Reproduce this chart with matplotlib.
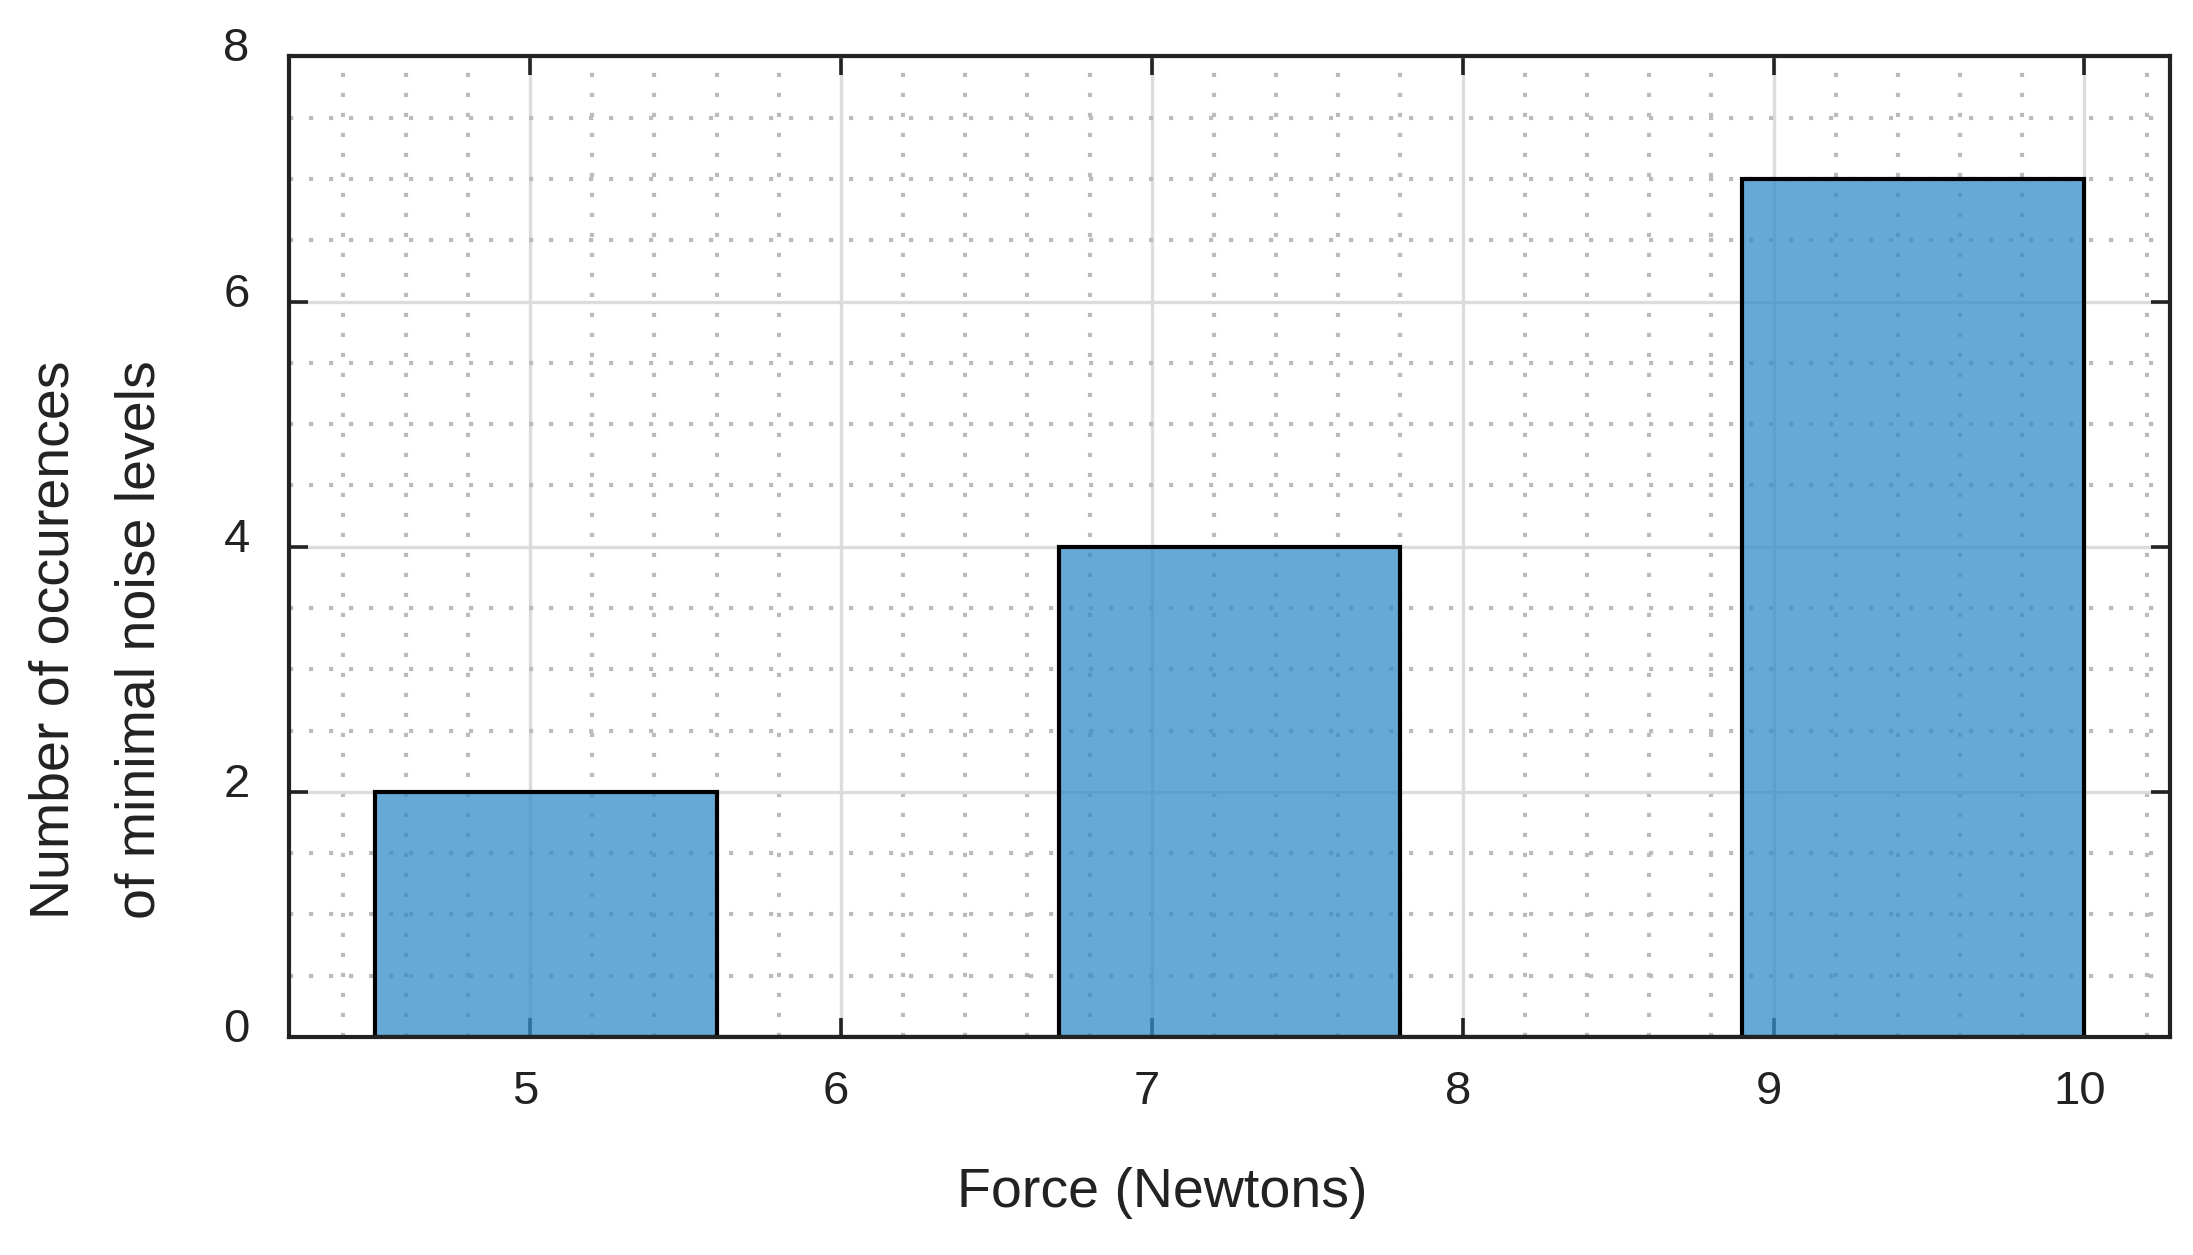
import matplotlib
matplotlib.use("Agg")
import matplotlib.pyplot as plt
import matplotlib.transforms as mtransforms
from matplotlib.ticker import MultipleLocator

plt.rcParams['font.family'] = ['Liberation Sans', 'DejaVu Sans']

bin_edges = [4.5, 5.6, 6.7, 7.8, 8.9, 10.0]
counts = [2, 0, 4, 0, 7]
x_ticks = [5, 6, 7, 8, 9, 10]
y_ticks = [0, 2, 4, 6, 8]
xlabel = "Force (Newtons)"
ylabel = "Number of occurences\nof minimal noise levels"

fig = plt.figure(figsize=(2193/200, 1255/200), dpi=200)
ax = fig.add_axes([0.1318, 0.1737, 0.9895-0.1318, 0.955-0.1737])

widths = [bin_edges[i+1]-bin_edges[i] for i in range(len(counts))]
ax.bar(bin_edges[:-1], counts, width=widths, align='edge',
       facecolor=(0.2, 0.55, 0.79, 0.75), edgecolor='black', linewidth=1.5, zorder=3)

ax.set_xlim(4.225, 10.275)
ax.set_ylim(0, 8)
ax.set_xticks(x_ticks)
ax.set_yticks(y_ticks)
ax.xaxis.set_minor_locator(MultipleLocator(0.2))
ax.yaxis.set_minor_locator(MultipleLocator(0.5))

ax.grid(which='major', color='#dcdcdc', linewidth=1.2, linestyle='-', zorder=0)
ax.grid(which='minor', color='#bcbcbc', linewidth=1.5, linestyle=(0, (1, 3.8)), zorder=0)
ax.set_axisbelow(True)

for s in ax.spines.values():
    s.set_linewidth(1.5)
    s.set_color('#222222')
    s.set_zorder(5)

ax.tick_params(which='major', direction='in', length=7, width=1.3, color='#222222',
               top=True, right=True, labelsize=17, labelcolor='#222222', pad=12)
ax.tick_params(which='minor', length=0)

# small offsets of tick labels as in the reference
xoff = mtransforms.ScaledTranslation(-5/200, 0, fig.dpi_scale_trans)
for lab in ax.get_xticklabels():
    lab.set_transform(lab.get_transform() + xoff)
yoff = mtransforms.ScaledTranslation(-6/200, 12/200, fig.dpi_scale_trans)
for lab in ax.get_yticklabels():
    lab.set_transform(lab.get_transform() + yoff)

ax.set_xlabel(xlabel, fontsize=20, color='#222222', labelpad=20)
ax.xaxis.set_label_coords(0.464, -0.133)
ax.set_ylabel(ylabel, fontsize=20, color='#222222', linespacing=1.85)
ax.yaxis.set_label_coords(-0.065, 0.405)

fig.savefig("out.png", dpi=200)
